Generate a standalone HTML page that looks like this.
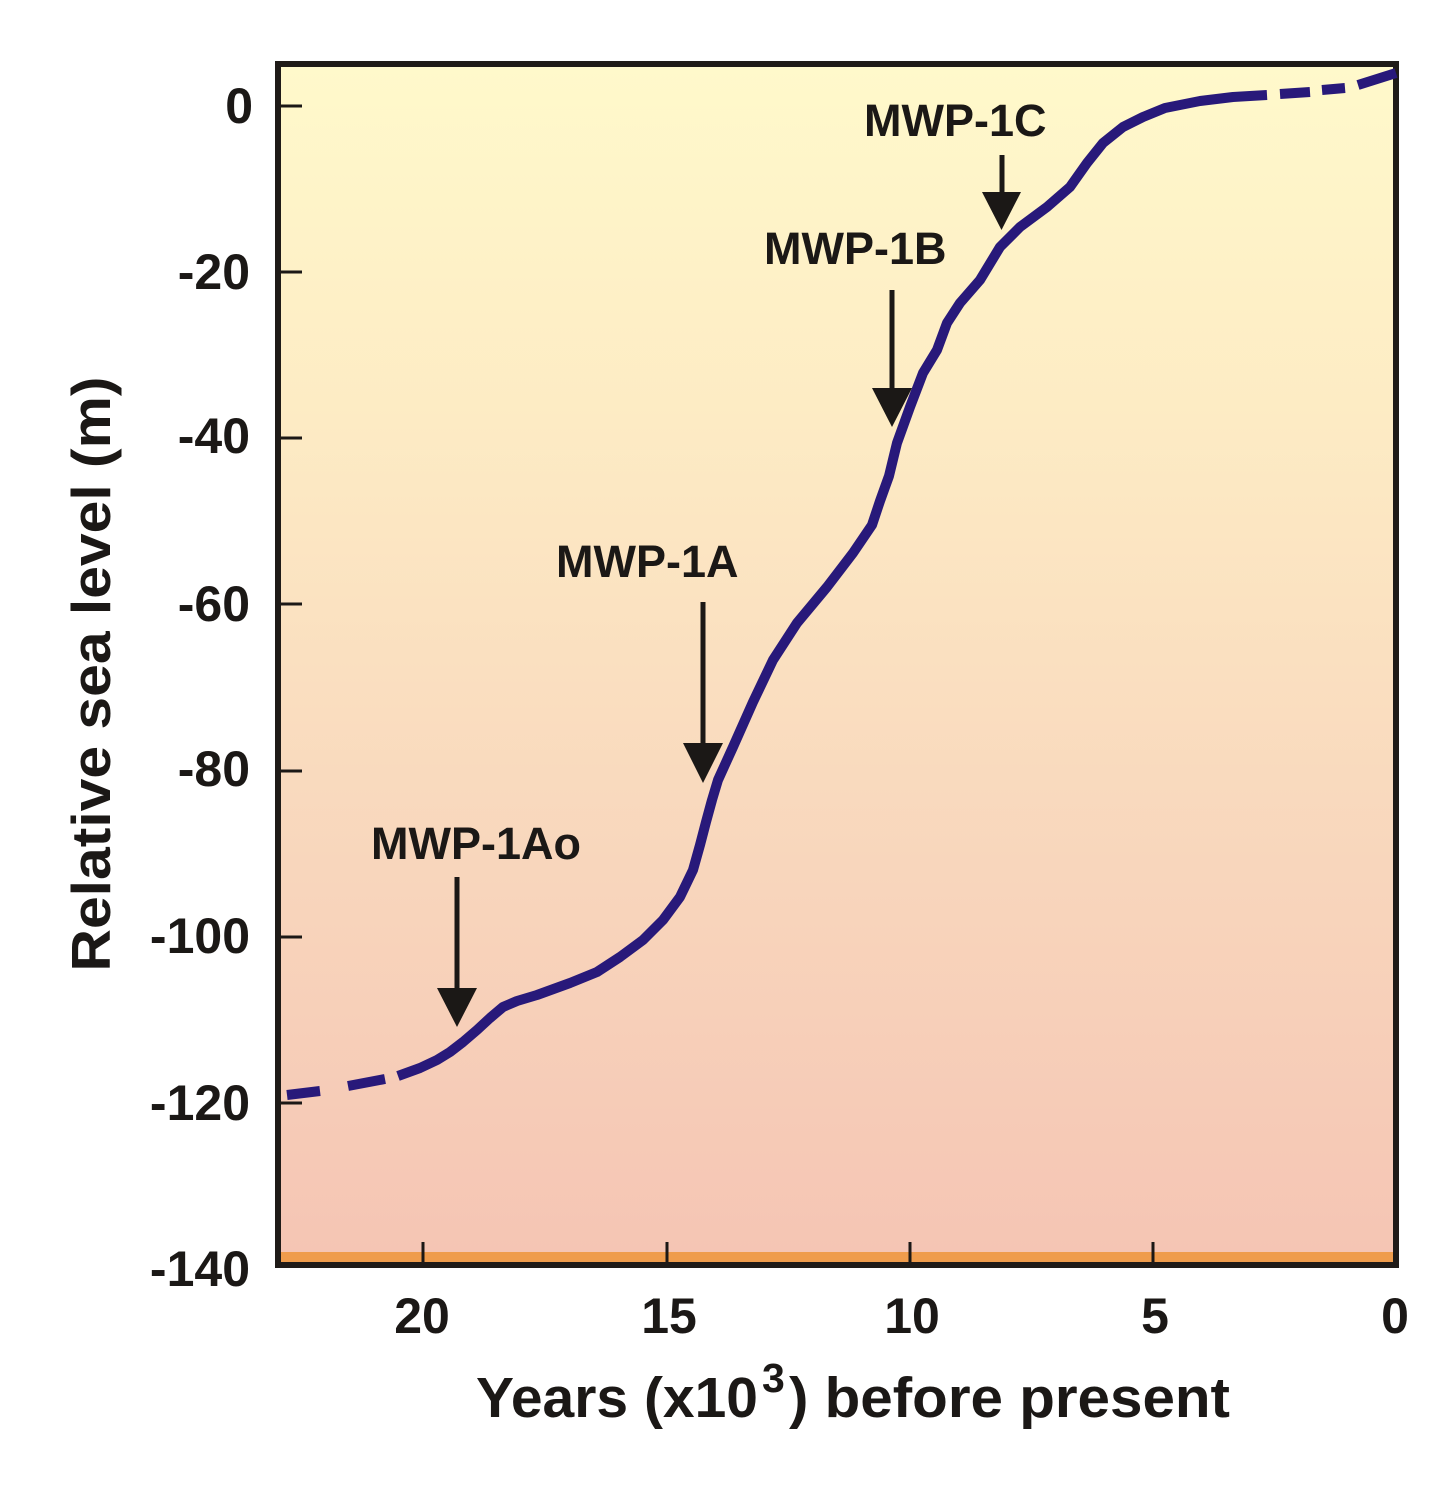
<!DOCTYPE html>
<html>
<head>
<meta charset="utf-8">
<style>
  html, body { margin: 0; padding: 0; background: #ffffff; }
  svg { display: block; }
  text { font-family: "Liberation Sans", Arial, sans-serif; font-weight: bold; fill: #1b1816; }
</style>
</head>
<body>
<svg width="1455" height="1500" viewBox="0 0 1455 1500" xmlns="http://www.w3.org/2000/svg">
  <defs>
    <linearGradient id="bg" x1="0" y1="67" x2="0" y2="1252" gradientUnits="userSpaceOnUse">
      <stop offset="0" stop-color="#fff9cb"/>
      <stop offset="0.3" stop-color="#fdebc4"/>
      <stop offset="0.6" stop-color="#f9dabe"/>
      <stop offset="1" stop-color="#f5c5b4"/>
    </linearGradient>
  </defs>

  <!-- plot area -->
  <rect x="278" y="64" width="1118" height="1201" fill="url(#bg)"/>
  <rect x="281" y="1252" width="1112" height="11" fill="#ef9c4c"/>

  <!-- y ticks -->
  <g stroke="#1b1816" stroke-width="3">
    <line x1="281" y1="106" x2="302" y2="106"/>
    <line x1="281" y1="272" x2="302" y2="272"/>
    <line x1="281" y1="438" x2="302" y2="438"/>
    <line x1="281" y1="604" x2="302" y2="604"/>
    <line x1="281" y1="771" x2="302" y2="771"/>
    <line x1="281" y1="937" x2="302" y2="937"/>
    <line x1="281" y1="1103" x2="302" y2="1103"/>
    <!-- x ticks -->
    <line x1="423" y1="1242" x2="423" y2="1263"/>
    <line x1="667" y1="1242" x2="667" y2="1263"/>
    <line x1="910" y1="1242" x2="910" y2="1263"/>
    <line x1="1153" y1="1242" x2="1153" y2="1263"/>
  </g>

  <!-- frame -->
  <rect x="278" y="64" width="1118" height="1201" fill="none" stroke="#1f1b18" stroke-width="6"/>

  <!-- curve -->
  <g stroke="#28197a" stroke-width="10" fill="none">
    <line x1="287" y1="1095" x2="320" y2="1091"/>
    <line x1="348" y1="1086" x2="385" y2="1079"/>
    <polyline stroke-linejoin="round" stroke-linecap="butt" points="398,1076 420,1068 437,1060 450,1052 463,1042 477,1030 490,1018 503,1007 517,1001 537,995 570,983 597,972 620,957 643,940 663,920 680,897 693,870 700,845 706,822 712,800 718,780 733,747 753,702 773,660 797,623 827,587 853,553 872,525 880,501 889,476 897,443 910,407 923,373 937,350 947,323 960,303 980,280 1000,247 1020,227 1047,207 1070,187 1087,163 1103,143 1123,127 1143,117 1165,108 1200,101 1233,97 1267,95"/>
    <line x1="1280" y1="94" x2="1310" y2="92"/>
    <line x1="1322" y1="90" x2="1345" y2="88"/>
    <line x1="1358" y1="85" x2="1396" y2="73"/>
  </g>

  <!-- arrows -->
  <g fill="#1b1816" stroke="none">
    <rect x="454.5" y="877" width="5" height="113"/>
    <polygon points="437,988 477,988 457,1027"/>
    <rect x="700.5" y="602" width="5" height="143"/>
    <polygon points="683,743 723,743 703,783"/>
    <rect x="889.5" y="290" width="5" height="100"/>
    <polygon points="872,388 912,388 892,427"/>
    <rect x="999.5" y="155" width="5" height="39"/>
    <polygon points="982,192 1021,192 1001.5,230"/>
  </g>

  <!-- annotations -->
  <text x="371" y="859" font-size="45">MWP-1Ao</text>
  <text x="556" y="577" font-size="45">MWP-1A</text>
  <text x="764" y="264" font-size="45">MWP-1B</text>
  <text x="864" y="136" font-size="45">MWP-1C</text>

  <!-- y tick labels -->
  <g font-size="50" text-anchor="end">
    <text x="253" y="123">0</text>
    <text x="250" y="289">-20</text>
    <text x="250" y="453">-40</text>
    <text x="250" y="621">-60</text>
    <text x="250" y="786">-80</text>
    <text x="250" y="953">-100</text>
    <text x="250" y="1120">-120</text>
    <text x="250" y="1286">-140</text>
  </g>

  <!-- x tick labels -->
  <g font-size="50" text-anchor="middle">
    <text x="422" y="1333">20</text>
    <text x="669" y="1333">15</text>
    <text x="912" y="1333">10</text>
    <text x="1155" y="1333">5</text>
    <text x="1395" y="1333">0</text>
  </g>

  <!-- x axis title -->
  <text x="476" y="1417" font-size="57" textLength="282" lengthAdjust="spacingAndGlyphs">Years (x10</text>
  <text x="762" y="1392" font-size="41">3</text>
  <text x="789" y="1417" font-size="57" textLength="441" lengthAdjust="spacingAndGlyphs">) before present</text>

  <!-- y axis title -->
  <text transform="translate(110,674) rotate(-90)" text-anchor="middle" font-size="55" textLength="595" lengthAdjust="spacingAndGlyphs">Relative sea level (m)</text>
</svg>
</body>
</html>
